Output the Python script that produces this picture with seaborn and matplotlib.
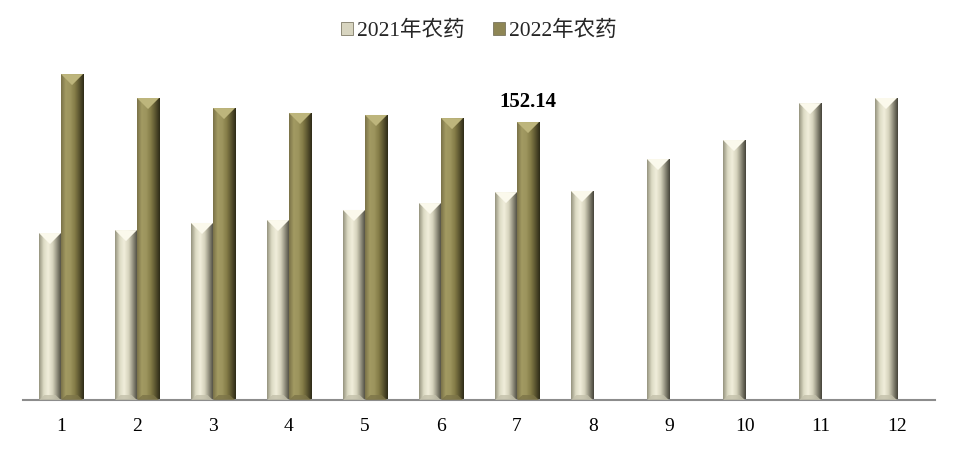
import numpy as np
import pandas as pd
import seaborn as sns
import matplotlib.pyplot as plt
from matplotlib.patches import Patch, Polygon
from matplotlib.colors import LinearSegmentedColormap

# values
months = [str(m) for m in range(1, 13)]
pest_2021 = [91.4, 93.0, 96.9, 98.5, 104.0, 107.8, 113.8, 114.4, 131.9, 142.3, 162.5, 165.3]
pest_2022 = [178.4, 165.3, 159.8, 157.1, 156.0, 154.3, 152.14, None, None, None, None, None]
series = ['2021年农药', '2022年农药']

rows = []
for m, a, b in zip(months, pest_2021, pest_2022):
    rows.append({'月': m, '系列': series[0], '值': a})
    rows.append({'月': m, '系列': series[1], '值': b})
df = pd.DataFrame(rows)

sns.set_theme(style='white')
plt.rcParams['font.family'] = ['Liberation Serif', 'Noto Sans CJK SC']

# horizontal shading profiles for the bevelled bars
grad = {
    series[0]: ['#96947f', '#dcdac4', '#f1eedb', '#d6d3bd', '#8f8d7b', '#46443a'],
    series[1]: ['#7a7248', '#a29a62', '#9d955e', '#857d48', '#5c5630', '#2e2b18'],
}
face = {series[0]: '#d8d5c0', series[1]: '#8e8655'}
top_col = {series[0]: '#fbf9ec', series[1]: '#bdb57c'}
bot_col = {series[0]: '#c4c1ab', series[1]: '#7d7548'}

fig = plt.figure(figsize=(9.58, 4.5), dpi=100)
ax = fig.add_axes([23 / 958, 50 / 450, 912 / 958, 340 / 450])

sns.barplot(data=df, x='月', y='值', hue='系列', hue_order=series,
            palette=face, width=0.58, legend=False, ax=ax)
ax.set_ylim(0, 186.1)
ax.set_xlim(-0.5, 11.5)

# data units per pixel
px_y = 186.1 / 340

bars = [p for p in ax.patches if p.get_height() > 0]
n = len(months)
for i, p in enumerate(bars):
    s = series[0] if i < n else series[1]
    x, w, h = p.get_x(), p.get_width(), p.get_height()
    cmap = LinearSegmentedColormap.from_list('b', grad[s])
    img = np.linspace(0, 1, 64).reshape(1, -1)
    im = ax.imshow(img, cmap=cmap, extent=[x, x + w, 0, h], aspect='auto',
                   zorder=2, interpolation='bilinear')
    im.set_clip_path(p)
    # top bevel (chevron) and bottom bevel
    bw_px = w * 912 / 12
    d = bw_px * 0.5 * px_y
    ax.add_patch(Polygon([(x, h), (x + w, h), (x + w / 2, h - d)],
                         closed=True, fc=top_col[s], ec='none', zorder=3))
    b = 5 * px_y
    ax.add_patch(Polygon([(x, 0), (x + w, 0), (x + w - w * 0.25, b), (x + w * 0.25, b)],
                         closed=True, fc=bot_col[s], ec='none', zorder=3, alpha=0.8))
    p.set_edgecolor('none')

# label on the last 2022 bar
last = bars[n + 6]
ax.text(last.get_x() + last.get_width() / 2, last.get_height() + 10 * px_y, '152.14',
        ha='center', va='bottom', fontsize=15, fontweight='bold', color='black',
        fontfamily='Liberation Serif')

for side in ['left', 'right', 'top']:
    ax.spines[side].set_visible(False)
ax.spines['bottom'].set_color('#8c8c8c')
ax.spines['bottom'].set_linewidth(1.5)
ax.set_yticks([])
ax.set_xlabel('')
ax.set_ylabel('')
ax.tick_params(axis='x', length=0, pad=13, labelsize=14, colors='black')

handles = [Patch(facecolor=face[s], edgecolor='#6a6650', linewidth=0.5) for s in series]
fig.legend(handles, series, loc='center', bbox_to_anchor=(0.5, 1 - 31 / 450), ncol=2,
           frameon=False, fontsize=15.5, handlelength=0.55, handleheight=0.55,
           handletextpad=0.2, columnspacing=1.3)

fig.savefig('out.png', dpi=100)
